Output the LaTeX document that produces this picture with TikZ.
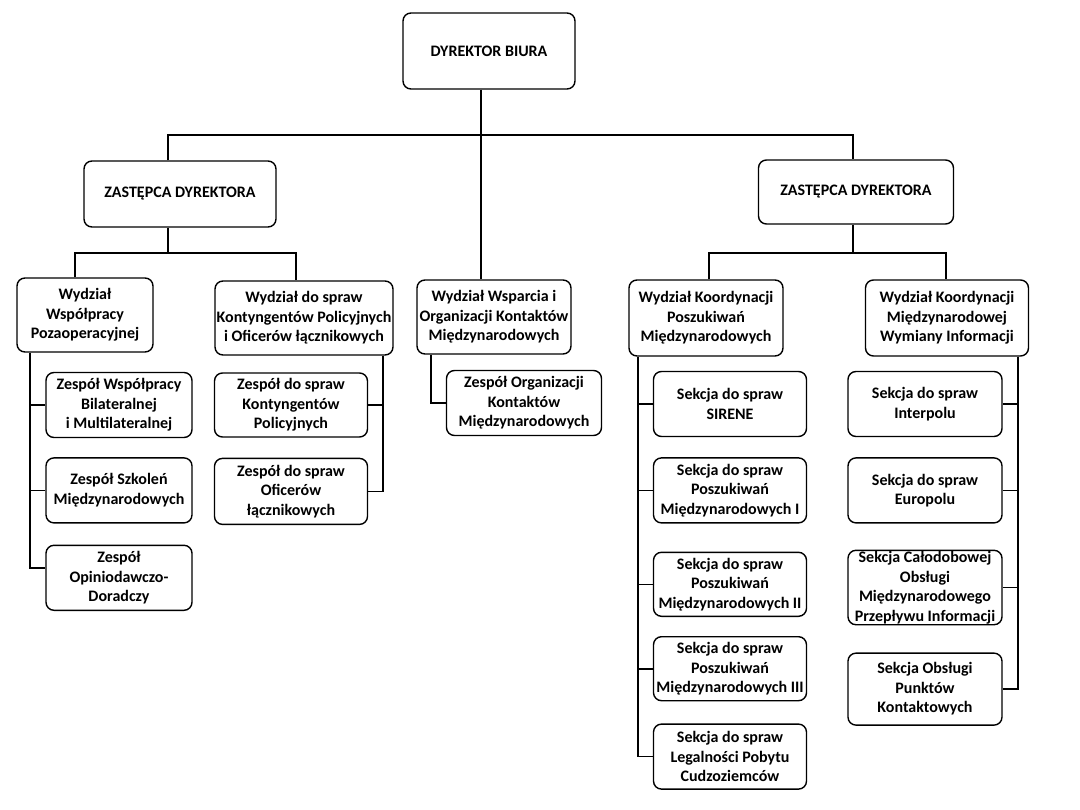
\documentclass[tikz,border=0pt]{standalone}
\usepackage{fontspec}
\setmainfont{Carlito}
\usepackage{tikz}
\usetikzlibrary{positioning}

\tikzset{
  org/.style={draw, line width=1.4pt, rounded corners=8pt, align=center, inner sep=1pt,
    font=\fontsize{16}{19.5}\selectfont\bfseries},
  sz/.style 2 args={minimum width=#1pt, minimum height=#2pt},
  link/.style={line width=1.6pt}
}

\begin{document}
\begin{tikzpicture}[x=1pt, y=-1pt]
  \useasboundingbox (0,0) rectangle (1080,810);

  \node (dyr) [org, sz={172}{76}] at (489,51) {DYREKTOR BIURA};
  \node (zl) [org, sz={192}{66}] at (180,194) {ZASTĘPCA DYREKTORA};
  \node (zp) [org, sz={195}{64}] at (856,192) {ZASTĘPCA DYREKTORA};

  \node (w1) [org, sz={136}{74}] at (85,315) {Wydział\\Współpracy\\Pozaoperacyjnej};
  \node (w2) [org, sz={178}{74}] at (304,318) {Wydział do spraw\\Kontyngentów Policyjnych\\i Oficerów łącznikowych};
  \node (w3) [org, sz={154}{74}] at (494,317) {Wydział Wsparcia i\\Organizacji Kontaktów\\Międzynarodowych};
  \node (w4) [org, sz={154}{76}] at (706,318) {Wydział Koordynacji\\Poszukiwań\\Międzynarodowych};
  \node (w5) [org, sz={163}{76}] at (947,318) {Wydział Koordynacji\\Międzynarodowej\\Wymiany Informacji};

  \node (z11) [org, sz={146}{65}] at (119,405) {Zespół Współpracy\\Bilateralnej\\i Multilateralnej};
  \node (z12) [org, sz={146}{65}, below=19pt of z11] {Zespół Szkoleń\\Międzynarodowych};
  \node (z13) [org, sz={146}{65}, below=21pt of z12] {Zespół\\Opiniodawczo-\\Doradczy};

  \node (z21) [org, sz={153}{64}] at (291,405) {Zespół do spraw\\Kontyngentów\\Policyjnych};
  \node (z22) [org, sz={153}{66}, below=20pt of z21] {Zespół do spraw\\Oficerów\\łącznikowych};

  \node (z31) [org, sz={155}{65}] at (524,403) {Zespół Organizacji\\Kontaktów\\Międzynarodowych};

  \node (s41) [org, sz={153}{65}] at (730,404) {Sekcja do spraw\\SIRENE};
  \node (s42) [org, sz={153}{65}, below=20pt of s41] {Sekcja do spraw\\Poszukiwań\\Międzynarodowych I};
  \node (s43) [org, sz={153}{64}, below=28pt of s42] {Sekcja do spraw\\Poszukiwań\\Międzynarodowych II};
  \node (s44) [org, sz={153}{64}, below=19pt of s43] {Sekcja do spraw\\Poszukiwań\\Międzynarodowych III};
  \node (s45) [org, sz={153}{65}, below=22pt of s44] {Sekcja do spraw\\Legalności Pobytu\\Cudzoziemców};

  \node (s51) [org, sz={154}{65}] at (925,404) {Sekcja do spraw\\Interpolu};
  \node (s52) [org, sz={154}{65}, below=20pt of s51] {Sekcja do spraw\\Europolu};
  \node (s53) [org, sz={154}{73}, below=26pt of s52] {Sekcja Całodobowej\\Obsługi\\Międzynarodowego\\Przepływu Informacji};
  \node (s54) [org, sz={154}{72}, below=27pt of s53] {Sekcja Obsługi\\Punktów\\Kontaktowych};

  \coordinate (top) at (481,135);
  \coordinate (t1) at (168,135);
  \coordinate (t2) at (853,135);
  \coordinate (l1) at (75,253);
  \coordinate (l2) at (296,253);
  \coordinate (r1) at (709,253);
  \coordinate (r2) at (946,253);
  \coordinate (k1) at (30,0);
  \coordinate (k2) at (383,0);
  \coordinate (k3) at (431,0);
  \coordinate (k4) at (638,0);
  \coordinate (k5) at (1018,0);

  \draw [link] (dyr.south -| top) to (w3.north -| top);
  \draw [link] (zl.north -| t1) -- (t1) -- (t2) -- (zp.north -| t2);
  \draw [link] (zl.south -| t1) to (t1 |- l1);
  \draw [link] (w1.north -| l1) -- (l1) -- (l2) -- (w2.north -| l2);
  \draw [link] (zp.south -| t2) to (t2 |- r1);
  \draw [link] (w4.north -| r1) -- (r1) -- (r2) -- (w5.north -| r2);

  \draw [link] (w1.south -| k1) |- ([yshift=10pt]z13.west);
  \foreach \n in {z11,z12}
    \draw [link] (k1 |- \n.west) to (\n.west);
  \draw [link] (w2.south -| k2) |- (z22.east);
  \draw [link] (k2 |- z21.east) to (z21.east);
  \draw [link] (w3.south -| k3) |- (z31.west);
  \draw [link] (w4.south -| k4) |- (s45.west);
  \foreach \n in {s41,s42,s43,s44}
    \draw [link] (k4 |- \n.west) to (\n.west);
  \draw [link] (w5.south -| k5) |- (s54.east);
  \foreach \n in {s51,s52,s53}
    \draw [link] (k5 |- \n.east) to (\n.east);
\end{tikzpicture}
\end{document}
